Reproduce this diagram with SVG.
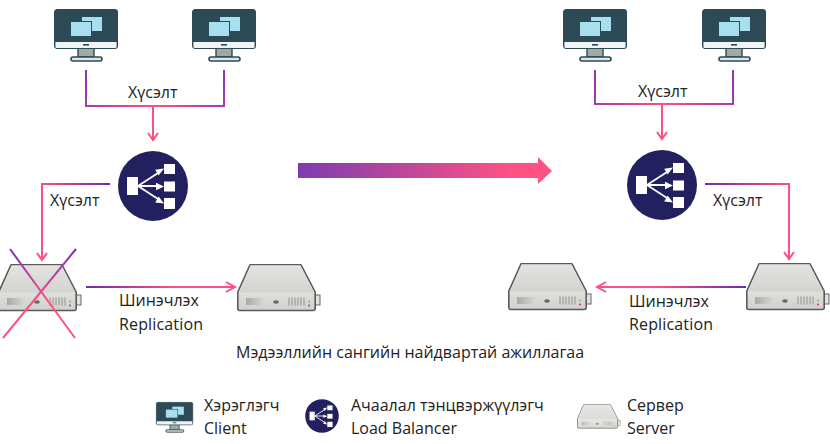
<svg xmlns="http://www.w3.org/2000/svg" xmlns:xlink="http://www.w3.org/1999/xlink" width="830" height="444" viewBox="0 0 830 444">
  <style>
    text { font-family: "Open Sans", "Noto Sans", "DejaVu Sans", sans-serif; font-size: 16px; fill: #222; }
    .wire { fill: none; stroke-width: 2; }
    .tip { fill: none; stroke: #ff4f81; stroke-width: 2; }
  </style>
  <defs>
    <linearGradient id="serverTop" x1="0" y1="0" x2="0" y2="1"><stop offset="0" stop-color="#e2e3df"/><stop offset="1" stop-color="#d2d4ce"/></linearGradient>
    <linearGradient id="serverFront" x1="0" y1="0" x2="0" y2="1"><stop offset="0" stop-color="#f6f6f4"/><stop offset="1" stop-color="#d0d0cc"/></linearGradient>
    <linearGradient id="serverSlot" x1="0" y1="0" x2="1" y2="0"><stop offset="0" stop-color="#a8aaa6"/><stop offset="1" stop-color="#d8d8d4"/></linearGradient>
    <linearGradient id="bigArrow" gradientUnits="userSpaceOnUse" x1="298" y1="0" x2="552" y2="0"><stop offset="0" stop-color="#7d3bb0"/><stop offset="0.85" stop-color="#ff5283"/></linearGradient>
    <linearGradient id="drop" gradientUnits="userSpaceOnUse" x1="0" y1="70" x2="0" y2="106"><stop offset="0" stop-color="#8a35b5"/><stop offset="1" stop-color="#a63ab0"/></linearGradient>
    <linearGradient id="busL" gradientUnits="userSpaceOnUse" x1="86" y1="0" x2="224" y2="0"><stop offset="0" stop-color="#a63ab0"/><stop offset="0.5" stop-color="#ff4f81"/><stop offset="1" stop-color="#a63ab0"/></linearGradient>
    <linearGradient id="busR" gradientUnits="userSpaceOnUse" x1="595" y1="0" x2="733" y2="0"><stop offset="0" stop-color="#a63ab0"/><stop offset="0.5" stop-color="#ff4f81"/><stop offset="1" stop-color="#a63ab0"/></linearGradient>
    <linearGradient id="toLeft" gradientUnits="userSpaceOnUse" x1="110" y1="0" x2="42" y2="0"><stop offset="0" stop-color="#6a2bb0"/><stop offset="1" stop-color="#ff4f81"/></linearGradient>
    <linearGradient id="toRight" gradientUnits="userSpaceOnUse" x1="705" y1="0" x2="789" y2="0"><stop offset="0" stop-color="#6a2bb0"/><stop offset="1" stop-color="#ff4f81"/></linearGradient>
    <linearGradient id="repL" gradientUnits="userSpaceOnUse" x1="86" y1="0" x2="235" y2="0"><stop offset="0" stop-color="#6a2bb0"/><stop offset="0.6" stop-color="#ff4f81"/></linearGradient>
    <linearGradient id="repR" gradientUnits="userSpaceOnUse" x1="746" y1="0" x2="597" y2="0"><stop offset="0" stop-color="#6a2bb0"/><stop offset="0.6" stop-color="#ff4f81"/></linearGradient>
    <linearGradient id="crossA" gradientUnits="userSpaceOnUse" x1="10" y1="249" x2="75" y2="338"><stop offset="0" stop-color="#7a30b5"/><stop offset="0.6" stop-color="#ff4f81"/></linearGradient>
    <linearGradient id="crossB" gradientUnits="userSpaceOnUse" x1="76" y1="249" x2="3" y2="338"><stop offset="0" stop-color="#7a30b5"/><stop offset="0.6" stop-color="#ff4f81"/></linearGradient>

    <!-- desktop computer, 64 wide -->
    <symbol id="monitor" overflow="visible">
      <path d="M24 39h16v9H24z" fill="#a2a8a6" stroke="#2d4a57" stroke-width="1.4"/>
      <rect x="17" y="48" width="31" height="4" rx="2" fill="#dfe5e5" stroke="#2d4a57" stroke-width="1.6"/>
      <rect x="0.7" y="0.7" width="62.6" height="38.6" rx="2.5" fill="#2d4a57" stroke="#2d4a57" stroke-width="1.4"/>
      <path d="M1.4 33H62.6V37.5a1.5 1.5 0 0 1-1.5 1.5H2.9a1.5 1.5 0 0 1-1.5-1.5z" fill="#f1f4f4"/>
      <rect x="29" y="35" width="6" height="1.6" fill="#2d4a57"/>
      <rect x="28" y="8" width="20" height="14" fill="#a7dfee"/>
      <rect x="16" y="12" width="22" height="16" fill="#2d4a57"/>
      <rect x="17" y="13" width="20" height="14" fill="#a7dfee"/>
    </symbol>

    <!-- load balancer badge, centred on its own origin -->
    <symbol id="balancer" overflow="visible">
      <circle r="35" fill="#23205f"/>
      <g fill="#fff">
        <rect x="-26" y="-9" width="11" height="18"/>
        <rect x="11" y="-22" width="11" height="10"/>
        <rect x="11" y="-4.5" width="11" height="10"/>
        <rect x="11" y="12" width="11" height="11"/>
      </g>
      <g stroke="#fff" stroke-width="1.8" fill="none">
        <path d="M-15 0L5 -13M-15 0H5M-15 0L5 13"/>
      </g>
      <g fill="#fff">
        <path d="M11 -17.5L2.2 -16.2 5.6 -10.6zM11 .5L3 -3.2V4.2zM11 17.5L2.2 16.4 5.6 10.6z"/>
      </g>
    </symbol>

    <!-- rack server, body 79 wide and 47 tall -->
    <symbol id="server" overflow="visible">
      <rect x="78" y="31" width="5" height="10" fill="#e2e2de" stroke="#666" stroke-width="1"/>
      <path d="M13 .8H64L78.2 28V44.5A2 2 0 0 1 76.2 46.5H2.8A2 2 0 0 1 .8 44.5V28z" fill="url(#serverFront)" stroke="#5a5a5a" stroke-width="1.6" stroke-linejoin="round"/>
      <path d="M13.6 1.6H63.4L77 28.6H2z" fill="url(#serverTop)"/>
      <path d="M9 34H27V41H9z" fill="url(#serverSlot)"/>
      <ellipse cx="39" cy="38" rx="2.8" ry="1.7" fill="#666"/>
      <path d="M52 33.5v8M55 33.5v8M58 33.5v8M61 33.5v8M64 33.5v8M67 33.5v8" stroke="#a2a4a0" stroke-width="1.3"/>
      <circle cx="72" cy="37.5" r=".9" fill="#6cc055"/>
      <circle cx="72" cy="41.5" r="1" fill="#d8383a"/>
    </symbol>
  </defs>

  <rect width="830" height="444" fill="#fff"/>

  <g id="connectors">
    <path class="wire" stroke="url(#drop)" d="M86 70V105M224 70V105"/>
    <path class="wire" stroke="url(#busL)" d="M85 106H225"/>
    <path class="wire" stroke="#ff4f81" d="M153 106V140"/>
    <path class="tip" d="M148 133L153 140 158 133"/>
    <path class="wire" stroke="url(#toLeft)" d="M110 184H42V260"/>
    <path class="tip" d="M37 253L42 260 47 253"/>
    <path class="wire" stroke="url(#repL)" d="M86 287H235"/>
    <path class="tip" d="M226 282L235 287 226 292"/>

    <path class="wire" stroke="url(#drop)" d="M595 70V103M733 70V103"/>
    <path class="wire" stroke="url(#busR)" d="M594 104H734"/>
    <path class="wire" stroke="#ff4f81" d="M662 104V139"/>
    <path class="tip" d="M657 132L662 139 667 132"/>
    <path class="wire" stroke="url(#toRight)" d="M705 184H789V259"/>
    <path class="tip" d="M784 252L789 259 794 252"/>
    <path class="wire" stroke="url(#repR)" d="M746 287H597"/>
    <path class="tip" d="M606 282L597 287 606 292"/>

    <path d="M298 163H538V157L552 171 538 184V178H298z" fill="url(#bigArrow)"/>
  </g>

  <g id="client-1"><use xlink:href="#monitor" x="54" y="9"/></g>
  <g id="client-2"><use xlink:href="#monitor" x="192" y="9"/></g>
  <g id="client-3"><use xlink:href="#monitor" x="563" y="9"/></g>
  <g id="client-4"><use xlink:href="#monitor" x="702" y="9"/></g>

  <g id="balancer-left"><use xlink:href="#balancer" x="153" y="186"/></g>
  <g id="balancer-right"><use xlink:href="#balancer" x="662" y="185"/></g>

  <g id="server-failed">
    <use xlink:href="#server" x="-2" y="264"/>
    <path class="wire" stroke="url(#crossA)" d="M10 249L75 338"/>
    <path class="wire" stroke="url(#crossB)" d="M76 249L3 338"/>
  </g>
  <g id="server-standby"><use xlink:href="#server" x="237" y="264"/></g>
  <g id="server-standby-right"><use xlink:href="#server" x="508" y="263"/></g>
  <g id="server-active"><use xlink:href="#server" x="746" y="263"/></g>

  <g id="labels">
    <text x="128" y="98">Хүсэлт</text>
    <text x="50" y="206">Хүсэлт</text>
    <text x="119" y="306">Шинэчлэх</text>
    <text x="119" y="330" textLength="84">Replication</text>
    <text x="638" y="97">Хүсэлт</text>
    <text x="713" y="206">Хүсэлт</text>
    <text x="629" y="307">Шинэчлэх</text>
    <text x="629" y="330" textLength="84">Replication</text>
    <text x="236" y="358">Мэдээллийн сангийн найдвартай ажиллагаа</text>
  </g>

  <g id="legend-client">
    <use xlink:href="#monitor" transform="translate(156 402) scale(.58)"/>
    <text x="204" y="411">Хэрэглэгч</text>
    <text x="204" y="434">Client</text>
  </g>
  <g id="legend-balancer">
    <use xlink:href="#balancer" transform="translate(322 416) scale(.48)"/>
    <text x="351" y="411">Ачаалал тэнцвэржүүлэгч</text>
    <text x="351" y="434">Load Balancer</text>
  </g>
  <g id="legend-server">
    <use xlink:href="#server" transform="translate(577 404) scale(.52)" opacity=".8"/>
    <text x="627" y="411">Сервер</text>
    <text x="627" y="434">Server</text>
  </g>
</svg>
